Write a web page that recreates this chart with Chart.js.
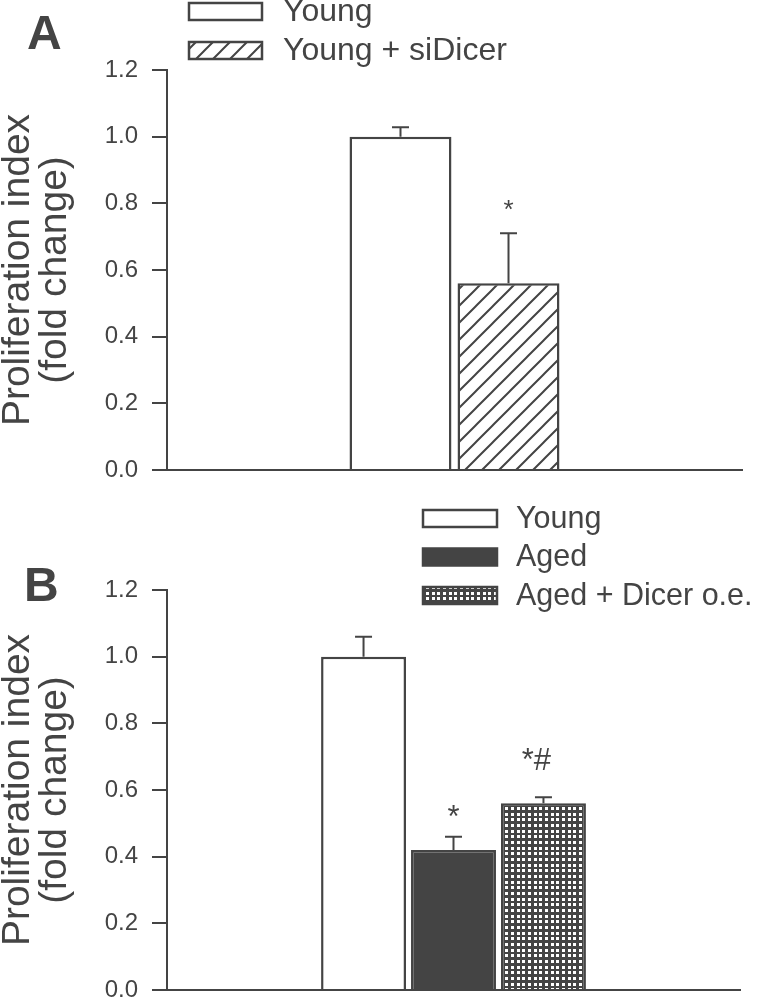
<!DOCTYPE html>
<html>
<head>
<meta charset="utf-8">
<script src="https://cdn.jsdelivr.net/npm/chart.js@4.4.0/dist/chart.umd.min.js"></script>
<style>
  body { margin: 0; background: #fff; width: 760px; height: 1000px; position: relative; overflow: hidden; font-family: "Liberation Sans", Arial, sans-serif; }
  .wrap { position: absolute; left: 0; width: 760px; }
  .letter { position: absolute; font-weight: bold; font-size: 48px; line-height: 1; color: #444; }
</style>
</head>
<body>
<div class="wrap" style="top:0;height:500px"><canvas id="chartA" width="760" height="500"></canvas></div>
<div class="wrap" style="top:500px;height:540px"><canvas id="chartB" width="760" height="540"></canvas></div>
<div class="letter" style="left:27px;top:9px">A</div>
<div class="letter" style="left:24px;top:561px">B</div>
<script>
// panel A
var labelsA = ['Young', 'Young + siDicer'];
var valuesA = [1.0, 0.56];
var errorsA = [0.028, 0.15];
var marksA = ['', '*'];
var markLevelA = [0, 0.755];

// panel B
var labelsB = ['Young', 'Aged', 'Aged + Dicer o.e.'];
var valuesB = [1.0, 0.42, 0.56];
var errorsB = [0.06, 0.04, 0.018];
var marksB = ['', '*', '*#'];
var markLevelB = [0, 0.49, 0.66];

var yTicks = [0, 0.2, 0.4, 0.6, 0.8, 1.0, 1.2];
var yTitle = ['Proliferation index', '(fold change)'];

var ink = '#444';
Chart.defaults.font.family = '"Liberation Sans", Arial, sans-serif';
Chart.defaults.color = ink;

function hatch() {
    var c = document.createElement('canvas');
    c.width = 17; c.height = 17;
    var g = c.getContext('2d');
    g.fillStyle = '#fff';
    g.fillRect(0, 0, 17, 17);
    g.strokeStyle = ink;
    g.lineWidth = 2;
    g.beginPath();
    g.moveTo(-2, 19); g.lineTo(19, -2);
    g.moveTo(-2, 2); g.lineTo(2, -2);
    g.moveTo(15, 19); g.lineTo(19, 15);
    g.stroke();
    return g.createPattern(c, 'repeat');
}

function checks() {
    var c = document.createElement('canvas');
    c.width = 17; c.height = 17;
    var g = c.getContext('2d');
    g.fillStyle = ink;
    g.fillRect(0, 0, 17, 17);
    g.fillStyle = '#fff';
    var p = [1, 7, 12];
    for (var i = 0; i < 3; i++) {
        for (var j = 0; j < 3; j++) {
            g.fillRect(p[i], p[j], 3, 3);
        }
    }
    return g.createPattern(c, 'repeat');
}

// error bars + significance marks
var errPlugin = {
    id: 'errBars',
    afterDatasetsDraw: function (chart) {
        var ctx = chart.ctx;
        var y = chart.scales.y;
        var opt = chart.options.plugins.errBars;
        chart.data.datasets.forEach(function (ds, i) {
            var bar = chart.getDatasetMeta(i).data[0];
            var top = y.getPixelForValue(ds.data[0] + ds.err);
            ctx.save();
            ctx.strokeStyle = ink;
            ctx.lineWidth = 2;
            ctx.beginPath();
            ctx.moveTo(bar.x, bar.y);
            ctx.lineTo(bar.x, top);
            ctx.moveTo(bar.x - 8.5, top);
            ctx.lineTo(bar.x + 8.5, top);
            ctx.stroke();
            if (ds.mark) {
                ctx.fillStyle = ink;
                ctx.font = opt.markSize + 'px "Liberation Sans", Arial, sans-serif';
                ctx.textAlign = 'center';
                ctx.textBaseline = 'alphabetic';
                ctx.fillText(ds.mark, bar.x - (ds.mark.length - 1) * 7, y.getPixelForValue(ds.markLevel));
            }
            ctx.restore();
        });
    }
};

var legendPlugin = {
    id: 'boxLegend',
    afterDraw: function (chart) {
        var o = chart.options.plugins.boxLegend;
        var ctx = chart.ctx;
        chart.data.datasets.forEach(function (ds, i) {
            var top = o.top + i * o.gap;
            ctx.save();
            ctx.fillStyle = ds.backgroundColor;
            ctx.fillRect(o.left, top, o.w, o.h);
            ctx.strokeStyle = ds.borderColor;
            ctx.lineWidth = 2.5;
            ctx.strokeRect(o.left, top, o.w, o.h);
            ctx.fillStyle = ink;
            ctx.font = o.size + 'px "Liberation Sans", Arial, sans-serif';
            ctx.textBaseline = 'middle';
            ctx.textAlign = 'left';
            ctx.fillText(ds.label, o.left + o.w + o.textGap, top + o.h / 2 + 1);
            ctx.restore();
        });
    }
};

function makeChart(id, labels, values, errors, marks, levels, fills, pad, catPct, legend, markSize) {
    var datasets = [];
    for (var i = 0; i < labels.length; i++) {
        datasets.push({
            label: labels[i],
            data: [values[i]],
            err: errors[i],
            mark: marks[i],
            markLevel: levels[i],
            backgroundColor: fills[i],
            borderColor: ink,
            borderWidth: 2.5,
            borderSkipped: 'bottom',
            categoryPercentage: catPct,
            barPercentage: 0.944
        });
    }
    return new Chart(document.getElementById(id), {
        type: 'bar',
        data: { labels: [''], datasets: datasets },
        plugins: [errPlugin, legendPlugin],
        options: {
            responsive: false,
            animation: false,
            layout: { padding: pad },
            plugins: {
                legend: { display: false },
                tooltip: { enabled: false },
                errBars: { markSize: markSize },
                boxLegend: legend
            },
            scales: {
                x: {
                    ticks: { display: false },
                    grid: { display: false },
                    border: { display: true, color: ink, width: 2 },
                    afterFit: function (s) { s.height = 0; }
                },
                y: {
                    min: 0,
                    max: 1.2,
                    afterBuildTicks: function (s) {
                        s.ticks = yTicks.map(function (v) { return { value: v }; });
                    },
                    ticks: {
                        font: { size: 24 },
                        color: ink,
                        padding: 14,
                        callback: function (v) { return Number(v).toFixed(1); }
                    },
                    grid: { drawOnChartArea: false, drawTicks: true, tickLength: 15, color: ink, lineWidth: 2 },
                    border: { display: true, color: ink, width: 2 },
                    title: {
                        display: true,
                        text: yTitle,
                        font: { size: 39, lineHeight: 0.95 },
                        color: ink,
                        padding: 0
                    },
                    afterFit: function (s) { s.width = 167; }
                }
            }
        }
    });
}

makeChart('chartA', labelsA, valuesA, errorsA, marksA, markLevelA,
    ['#fff', hatch()],
    { top: 70, bottom: 30, left: 0, right: 18 }, 0.3757,
    { left: 189, top: 3, w: 73, h: 17, gap: 39, textGap: 21, size: 32 }, 26);

makeChart('chartB', labelsB, valuesB, errorsB, marksB, markLevelB,
    ['#fff', ink, checks()],
    { top: 90, bottom: 50, left: 0, right: 20 }, 0.471,
    { left: 423, top: 10, w: 74, h: 17, gap: 38.5, textGap: 19, size: 30.5 }, 31);
</script>
</body>
</html>
